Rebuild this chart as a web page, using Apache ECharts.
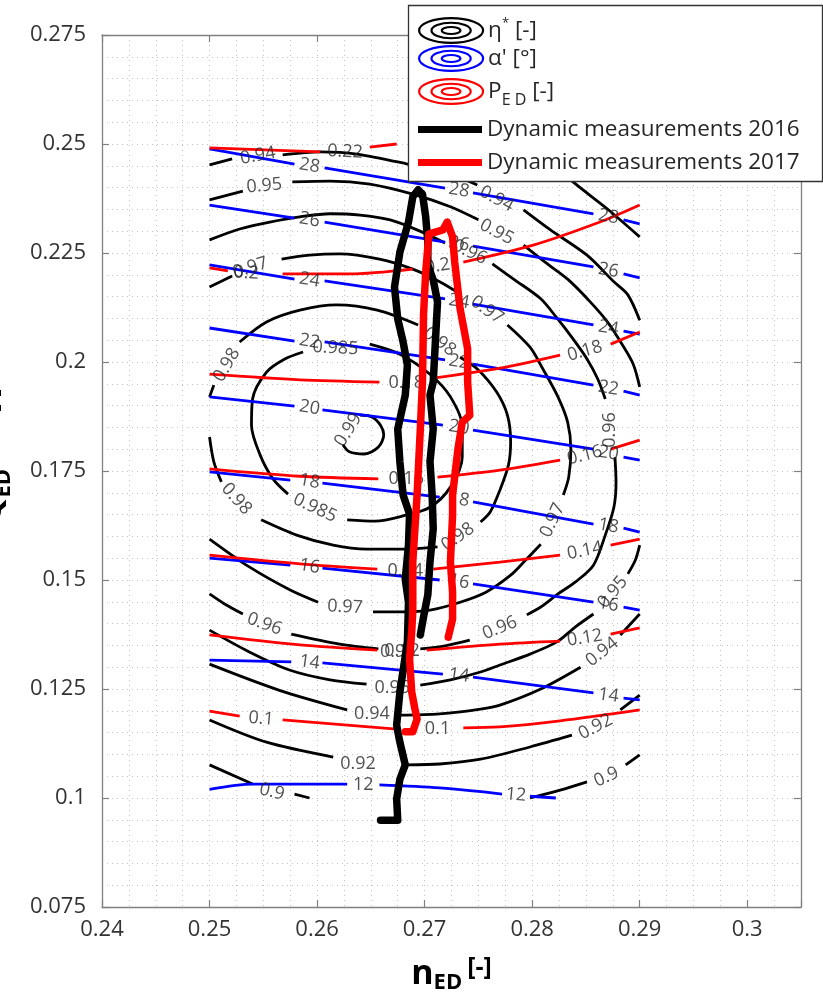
<!DOCTYPE html>
<html><head><meta charset="utf-8">
<script src="https://cdn.jsdelivr.net/npm/echarts@6/dist/echarts.min.js"></script>
<style>html,body{margin:0;padding:0;background:#fff}#c{width:823px;height:1002px}</style>
</head><body><div id="c"></div>
<script>
// ---------- axis ticks ----------
const xTickLabels = ['0.24','0.25','0.26','0.27','0.28','0.29','0.3'];
const yTickLabels = ['0.075','0.1','0.125','0.15','0.175','0.2','0.225','0.25','0.275'];

// ---------- eta* contours (segments between inline labels) ----------
const eta099 = [[[0.2640,0.1878],[0.2651,0.1874],[0.2659,0.1855],[0.2662,0.1833],[0.2657,0.1805],[0.2644,0.1789],[0.2630,0.1794],[0.2624,0.1810]]];
const eta0985 = [
 [[0.2649,0.2041],[0.2677,0.2018],[0.2705,0.1972],[0.2724,0.1920],[0.2735,0.1851],[0.2735,0.1782],[0.2724,0.1713],[0.2705,0.1667],[0.2680,0.1647],[0.2654,0.1635],[0.2628,0.1638]],
 [[0.2573,0.1697],[0.2559,0.1732],[0.2547,0.1787],[0.2539,0.1855],[0.2540,0.1915],[0.2553,0.1977],[0.2570,0.2007],[0.2587,0.2023]]
];
const eta098 = [
 [[0.2528,0.2046],[0.2553,0.2092],[0.2584,0.2119],[0.2618,0.2131],[0.2656,0.2119],[0.2694,0.2085]],
 [[0.2733,0.2011],[0.2749,0.1984],[0.2767,0.1931],[0.2777,0.1878],[0.2780,0.1817],[0.2778,0.1764],[0.2770,0.1706],[0.2761,0.1656],[0.2752,0.1633]],
 [[0.2712,0.1576],[0.2680,0.1571],[0.2646,0.1571],[0.2615,0.1580],[0.2581,0.1603],[0.2548,0.1638]],
 [[0.2511,0.1725],[0.2504,0.1771],[0.2500,0.1828]],
 [[0.2500,0.1920],[0.2504,0.1947]]
];
const eta097 = [
 [[0.2500,0.2172],[0.2521,0.2197]],
 [[0.2567,0.2236],[0.2593,0.2245],[0.2621,0.2248],[0.2658,0.2236],[0.2689,0.2213],[0.2714,0.2184],[0.2733,0.2156]],
 [[0.2777,0.2085],[0.2798,0.2034],[0.2810,0.1984],[0.2824,0.1920],[0.2833,0.1862],[0.2836,0.1800],[0.2834,0.1736],[0.2829,0.1695]],
 [[0.2808,0.1582],[0.2794,0.1546],[0.2780,0.1511],[0.2757,0.1472],[0.2733,0.1449],[0.2705,0.1431],[0.2680,0.1427],[0.2652,0.1427]],
 [[0.2601,0.1449],[0.2575,0.1477],[0.2537,0.1530],[0.2500,0.1594]]
];
const eta096 = [
 [[0.2500,0.2280],[0.2528,0.2305],[0.2556,0.2321],[0.2584,0.2333],[0.2612,0.2340],[0.2640,0.2337],[0.2668,0.2326],[0.2693,0.2303],[0.2719,0.2273]],
 [[0.2763,0.2225],[0.2784,0.2188],[0.2808,0.2145],[0.2823,0.2101],[0.2838,0.2053],[0.2851,0.2007],[0.2861,0.1961],[0.2868,0.1915]],
 [[0.2877,0.1782],[0.2878,0.1725],[0.2876,0.1667],[0.2868,0.1603],[0.2857,0.1534],[0.2840,0.1495],[0.2824,0.1468],[0.2808,0.1438],[0.2795,0.1420]],
 [[0.2742,0.1362],[0.2719,0.1349],[0.2696,0.1342]],
 [[0.2657,0.1342],[0.2621,0.1353],[0.2576,0.1376]],
 [[0.2531,0.1422],[0.2514,0.1445],[0.2500,0.1468]]
];
const eta095 = [
 [[0.2500,0.2372],[0.2531,0.2392]],
 [[0.2577,0.2413],[0.2612,0.2415],[0.2649,0.2408],[0.2689,0.2385],[0.2724,0.2356],[0.2750,0.2326]],
 [[0.2792,0.2268],[0.2812,0.2229],[0.2833,0.2190],[0.2854,0.2138],[0.2870,0.2092],[0.2884,0.2039],[0.2894,0.1995],[0.2900,0.1943]],
 [[0.2900,0.1580],[0.2896,0.1546],[0.2889,0.1514]],
 [[0.2857,0.1422],[0.2840,0.1392],[0.2823,0.1358],[0.2798,0.1330],[0.2770,0.1305],[0.2752,0.1289],[0.2724,0.1271],[0.2696,0.1259]],
 [[0.2646,0.1261],[0.2612,0.1271],[0.2575,0.1293],[0.2537,0.1335],[0.2500,0.1385]]
];
const eta094 = [
 [[0.2500,0.2452],[0.2521,0.2466]],
 [[0.2568,0.2475],[0.2603,0.2482],[0.2637,0.2477],[0.2684,0.2454],[0.2724,0.2431],[0.2749,0.2406]],
 [[0.2792,0.2349],[0.2817,0.2303],[0.2851,0.2245],[0.2876,0.2184],[0.2889,0.2154],[0.2900,0.2096]],
 [[0.2900,0.1422],[0.2882,0.1374]],
 [[0.2845,0.1300],[0.2808,0.1250],[0.2770,0.1213],[0.2752,0.1204],[0.2714,0.1193],[0.2677,0.1190]],
 [[0.2628,0.1202],[0.2565,0.1247],[0.2500,0.1307]]
];
const eta092 = [
 [[0.2798,0.2500],[0.2838,0.2413],[0.2870,0.2351],[0.2900,0.2287]],
 [[0.2900,0.1236],[0.2882,0.1202]],
 [[0.2837,0.1144],[0.2798,0.1117],[0.2752,0.1089],[0.2714,0.1078],[0.2684,0.1076]],
 [[0.2615,0.1094],[0.2553,0.1128],[0.2500,0.1179]]
];
const eta090 = [
 [[0.2500,0.1076],[0.2540,0.1032]],
 [[0.2579,0.1009],[0.2593,0.1000]],
 [[0.2900,0.1099],[0.2887,0.1076]],
 [[0.2851,0.1037],[0.2826,0.1018],[0.2798,0.1000]]
];
const etaLabels = [
 [0.2629,0.1844,'0.99',58],
 [0.2617,0.2032,'0.985',-3],[0.2598,0.1665,'0.985',-25],
 [0.2516,0.1993,'0.98',60],[0.2714,0.2046,'0.98',-37],[0.2731,0.1599,'0.98',35],[0.2525,0.1686,'0.98',-48],
 [0.2538,0.2216,'0.97',18],[0.2758,0.2119,'0.97',-35],[0.2819,0.1637,'0.97',65],[0.2626,0.1438,'0.97',-3],
 [0.2742,0.2252,'0.96',-26],[0.2872,0.1844,'0.96',90],[0.2770,0.1390,'0.96',22],[0.2675,0.1335,'0.96',0],[0.2551,0.1399,'0.96',-20],
 [0.2551,0.2404,'0.95',5],[0.2767,0.2298,'0.95',-28],[0.2875,0.1472,'0.95',50],[0.2670,0.1252,'0.95',0],
 [0.2545,0.2473,'0.94',10],[0.2767,0.2374,'0.94',-28],[0.2865,0.1335,'0.94',38],[0.2651,0.1193,'0.94',0],
 [0.2859,0.1163,'0.92',28],[0.2638,0.1078,'0.92',0],
 [0.2558,0.1014,'0.9',-13],[0.2869,0.1048,'0.9',24]
];

// ---------- alpha' contours ----------
const alpha28 = [[[0.2500,0.2489],[0.2579,0.2454]],[[0.2607,0.2445],[0.2719,0.2399]],[[0.2745,0.2388],[0.2857,0.2340]],[[0.2885,0.2326],[0.2900,0.2317]]];
const alpha26 = [[[0.2500,0.2360],[0.2579,0.2330]],[[0.2607,0.2321],[0.2719,0.2275]],[[0.2745,0.2266],[0.2857,0.2218]],[[0.2885,0.2202],[0.2900,0.2193]]];
const alpha24 = [[[0.2500,0.2223],[0.2579,0.2190]],[[0.2607,0.2186],[0.2719,0.2145]],[[0.2745,0.2133],[0.2857,0.2085]],[[0.2885,0.2071],[0.2900,0.2064]]];
const alpha22 = [[[0.2500,0.2078],[0.2579,0.2048]],[[0.2607,0.2046],[0.2719,0.2005]],[[0.2745,0.1995],[0.2857,0.1947]],[[0.2885,0.1933],[0.2900,0.1924]]];
const alpha20 = [[[0.2500,0.1920],[0.2579,0.1899]],[[0.2605,0.1890],[0.2717,0.1855]],[[0.2745,0.1844],[0.2857,0.1800]],[[0.2885,0.1782],[0.2900,0.1775]]];
const alpha18 = [[[0.2500,0.1748],[0.2575,0.1729]],[[0.2605,0.1722],[0.2714,0.1690]],[[0.2745,0.1679],[0.2857,0.1628]],[[0.2885,0.1619],[0.2900,0.1610]]];
const alpha16 = [[[0.2500,0.1550],[0.2575,0.1534]],[[0.2605,0.1527],[0.2714,0.1500]],[[0.2745,0.1491],[0.2857,0.1449]],[[0.2885,0.1438],[0.2900,0.1431]]];
const alpha14 = [[[0.2500,0.1316],[0.2576,0.1312]],[[0.2605,0.1310],[0.2717,0.1284]],[[0.2745,0.1277],[0.2857,0.1241]],[[0.2885,0.1229],[0.2900,0.1225]]];
const alpha12 = [[[0.2500,0.1020],[0.2540,0.1032],[0.2628,0.1032]],[[0.2658,0.1030],[0.2714,0.1023],[0.2772,0.1009]],[[0.2798,0.1004],[0.2822,0.1000]]];
const alphaLabels = [
 [0.2593,0.2450,'28',-10],[0.2732,0.2394,'28',-10],[0.2871,0.2333,'28',-10],
 [0.2593,0.2326,'26',-10],[0.2732,0.2271,'26',-10],[0.2871,0.2210,'26',-10],
 [0.2593,0.2188,'24',-10],[0.2732,0.2139,'24',-10],[0.2871,0.2078,'24',-10],
 [0.2593,0.2047,'22',-10],[0.2732,0.2000,'22',-10],[0.2871,0.1940,'22',-10],
 [0.2593,0.1895,'20',-10],[0.2732,0.1850,'20',-10],[0.2871,0.1791,'20',-10],
 [0.2593,0.1726,'18',-10],[0.2732,0.1685,'18',-10],[0.2871,0.1624,'18',-10],
 [0.2593,0.1531,'16',-10],[0.2732,0.1496,'16',-10],[0.2871,0.1444,'16',-10],
 [0.2593,0.1311,'14',-8],[0.2732,0.1281,'14',-8],[0.2871,0.1235,'14',-8],
 [0.2643,0.1031,'12',0],[0.2785,0.1007,'12',-5]
];

// ---------- P_ED contours ----------
const ped022 = [[[0.2500,0.2491],[0.2603,0.2482]],[[0.2649,0.2493],[0.2674,0.2500]]];
const ped020 = [[[0.2500,0.2216],[0.2517,0.2209]],[[0.2568,0.2202],[0.2630,0.2202],[0.2689,0.2213]],[[0.2736,0.2229],[0.2801,0.2268],[0.2863,0.2321],[0.2900,0.2360]]];
const ped018 = [[[0.2500,0.1972],[0.2584,0.1959],[0.2658,0.1954]],[[0.2708,0.1963],[0.2770,0.1986],[0.2826,0.2016]],[[0.2873,0.2041],[0.2900,0.2069]]];
const ped016 = [[[0.2500,0.1755],[0.2584,0.1738],[0.2657,0.1732]],[[0.2712,0.1736],[0.2770,0.1752],[0.2826,0.1775]],[[0.2873,0.1800],[0.2900,0.1821]]];
const ped014 = [[[0.2500,0.1557],[0.2584,0.1537],[0.2656,0.1525]],[[0.2708,0.1525],[0.2770,0.1541],[0.2826,0.1557]],[[0.2873,0.1580],[0.2900,0.1594]]];
const ped012 = [[[0.2500,0.1374],[0.2584,0.1351],[0.2656,0.1339]],[[0.2702,0.1339],[0.2770,0.1353],[0.2826,0.1360]],[[0.2873,0.1376],[0.2900,0.1390]]];
const ped010 = [[[0.2500,0.1199],[0.2528,0.1188]],[[0.2568,0.1179],[0.2674,0.1158]],[[0.2736,0.1161],[0.2770,0.1163],[0.2826,0.1177],[0.2900,0.1202]]];
const pedLabels = [
 [0.2626,0.2482,'0.22',-3],
 [0.2534,0.2204,'0.2',-3],[0.2712,0.2220,'0.2',8],
 [0.2683,0.1952,'0.18',0],[0.2849,0.2025,'0.18',16],
 [0.2683,0.1733,'0.16',0],[0.2849,0.1786,'0.16',14],
 [0.2682,0.1522,'0.14',0],[0.2849,0.1567,'0.14',11],
 [0.2679,0.1337,'0.12',0],[0.2849,0.1367,'0.12',9],
 [0.2548,0.1182,'0.1',-5],[0.2712,0.1159,'0.1',0]
];

// ---------- dynamic measurements ----------
const dyn2016 = [[0.2659,0.0949],[0.2675,0.0949],[0.2674,0.0998],[0.2677,0.1043],[0.2682,0.1076],[0.2677,0.1128],[0.2674,0.1167],[0.2677,0.1243],[0.2684,0.1358],[0.2685,0.1449],[0.2682,0.1502],[0.2685,0.1580],[0.2686,0.1651],[0.2680,0.1695],[0.2677,0.1771],[0.2675,0.1846],[0.2682,0.1924],[0.2684,0.1993],[0.2680,0.2046],[0.2675,0.2099],[0.2672,0.2172],[0.2677,0.2252],[0.2685,0.2321],[0.2689,0.2379],[0.2694,0.2395],[0.2698,0.2385],[0.2701,0.2333],[0.2703,0.2275],[0.2703,0.2223],[0.2708,0.2188],[0.2712,0.2138],[0.2710,0.2046],[0.2708,0.1954],[0.2705,0.1924],[0.2708,0.1846],[0.2705,0.1771],[0.2707,0.1695],[0.2708,0.1617],[0.2705,0.1541],[0.2703,0.1466],[0.2699,0.1415],[0.2696,0.1374]];
const dyn2017 = [[0.2722,0.1369],[0.2726,0.1410],[0.2726,0.1472],[0.2724,0.1541],[0.2726,0.1649],[0.2726,0.1695],[0.2731,0.1800],[0.2735,0.1862],[0.2742,0.1878],[0.2740,0.1954],[0.2740,0.2030],[0.2733,0.2122],[0.2728,0.2229],[0.2726,0.2287],[0.2721,0.2321],[0.2717,0.2303],[0.2710,0.2298],[0.2704,0.2294],[0.2703,0.2264],[0.2701,0.2206],[0.2699,0.2108],[0.2698,0.1954],[0.2696,0.1846],[0.2693,0.1695],[0.2689,0.1541],[0.2689,0.1427],[0.2688,0.1381],[0.2686,0.1319],[0.2688,0.1243],[0.2691,0.1204],[0.2693,0.1181],[0.2689,0.1152],[0.2682,0.1152]];

// ---------- legend entries ----------
const legendNames = ['eta', 'alpha', 'ped', 'd2016', 'd2017'];
const legendText = {
  eta: '{t|η}{sup|*}{t| [-]}',
  alpha: "{t|α' [°]}",
  ped: '{t|P}{sub|E D}{t| [-]}',
  d2016: '{t|Dynamic measurements 2016}',
  d2017: '{t|Dynamic measurements 2017}'
};

// ---------- build chart ----------
const F = 'Open Sans';
const TXT = '#262626';
const GRIDC = '#c4c4c4';
const AX = '#808080';

function contourSeries(name, levels, color) {
  const out = [];
  levels.forEach(function (segs) {
    segs.forEach(function (seg) {
      out.push({type: 'line', name: name, data: seg, symbol: 'none', showSymbol: false, smooth: 0.3,
        lineStyle: {color: color, width: 2.8, cap: 'butt'}, itemStyle: {color: color}, silent: true, z: 2});
    });
  });
  return out;
}
function labelSeries(labels) {
  return {type: 'scatter', name: 'labels', silent: true, z: 3, symbolSize: 1,
    itemStyle: {color: 'rgba(0,0,0,0)'},
    data: labels.map(function (l) { return {value: [l[0], l[1]], name: l[2], label: {rotate: l[3]}}; }),
    label: {show: true, position: 'inside', formatter: '{b}', fontSize: 18, fontFamily: F, color: TXT}};
}
function tickFmt(list) {
  return function (v) {
    for (const s of list) { if (Math.abs(parseFloat(s) - v) < 1e-7) return s; }
    return '';
  };
}

const series = []
  .concat(contourSeries('eta', [eta099, eta0985, eta098, eta097, eta096, eta095, eta094, eta092, eta090], '#000000'))
  .concat(contourSeries('alpha', [alpha28, alpha26, alpha24, alpha22, alpha20, alpha18, alpha16, alpha14, alpha12], '#0000ff'))
  .concat(contourSeries('ped', [ped022, ped020, ped018, ped016, ped014, ped012, ped010], '#ff0000'))
  .concat([labelSeries(etaLabels.concat(alphaLabels, pedLabels))])
  .concat([
    {type: 'line', name: 'd2016', data: dyn2016, symbol: 'none', showSymbol: false, silent: true, z: 4,
      lineStyle: {color: '#000000', width: 7.5, join: 'round', cap: 'round'}, itemStyle: {color: '#000000'}},
    {type: 'line', name: 'd2017', data: dyn2017, symbol: 'none', showSymbol: false, silent: true, z: 4,
      lineStyle: {color: '#ff0000', width: 7.5, join: 'round', cap: 'round'}, itemStyle: {color: '#ff0000'}}
  ]);

const ellipsePath = 'path://M1,13a31,12 0 1,0 62,0a31,12 0 1,0 -62,0ZM13,13a19,7.5 0 1,0 38,0a19,7.5 0 1,0 -38,0ZM23,13a9,3.4 0 1,0 18,0a9,3.4 0 1,0 -18,0Z';
const barPath = 'path://M0,0H64V7H0Z';
const legendIcon = {eta: ellipsePath, alpha: ellipsePath, ped: ellipsePath, d2016: barPath, d2017: barPath};
const legendStyle = {
  eta: {color: 'rgba(0,0,0,0)', borderColor: '#000000', borderWidth: 2.2},
  alpha: {color: 'rgba(0,0,0,0)', borderColor: '#0000ff', borderWidth: 2.2},
  ped: {color: 'rgba(0,0,0,0)', borderColor: '#ff0000', borderWidth: 2.2},
  d2016: {color: '#000000', borderWidth: 0},
  d2017: {color: '#ff0000', borderWidth: 0}
};
const legendTop = {eta: 17, alpha: 45, ped: 78, d2016: 118, d2017: 151};
const legendRich = {
  t: {fontSize: 22.5, fontFamily: F, color: TXT},
  sup: {fontSize: 13, fontFamily: F, color: TXT, padding: [0, 0, 14, 0]},
  sub: {fontSize: 16, fontFamily: F, color: TXT, padding: [18, 0, 0, 0]}
};
const legends = legendNames.map(function (n) {
  return {
    show: true, orient: 'vertical', left: 418, top: legendTop[n], padding: 0, z: 6,
    itemWidth: 64, itemHeight: 26, selectedMode: false, symbolKeepAspect: true,
    formatter: function (name) { return legendText[name]; },
    textStyle: {fontFamily: F, fontSize: 22.5, color: TXT, rich: legendRich},
    data: [{name: n, icon: legendIcon[n], itemStyle: legendStyle[n]}]
  };
});

const xNameRich = {
  n: {fontSize: 34, fontWeight: 'bold', fontFamily: F, color: '#000'},
  s: {fontSize: 22, fontWeight: 'bold', fontFamily: F, color: '#000', padding: [16, 0, 0, 0]},
  b: {fontSize: 25, fontWeight: 'bold', fontFamily: F, color: '#000', padding: [0, 0, 14, 0]},
  g: {fontSize: 10, width: 5}
};
const yNameRich = {
  n: {fontSize: 33, fontWeight: 'bold', fontFamily: F, color: '#000'},
  s: {fontSize: 22, fontWeight: 'bold', fontFamily: F, color: '#000', padding: [24, 0, 0, 0]},
  b: {fontSize: 25, fontWeight: 'bold', fontFamily: F, color: '#000', padding: [0, 0, 4, 0]},
  sp: {fontSize: 22, width: 56},
  sp0: {fontSize: 22, width: 30}
};

const option = {
  animation: false,
  backgroundColor: '#ffffff',
  grid: {left: 102, right: 22, top: 35, bottom: 95, containLabel: false, outerBoundsMode: 'none'},
  graphic: [{type: 'rect', z: 5, silent: true, shape: {x: 408.5, y: 5.5, width: 414, height: 176},
    style: {fill: '#ffffff', stroke: '#333333', lineWidth: 1.3}}],
  xAxis: [
    {type: 'value', position: 'bottom', min: 0.24, max: 0.305, interval: 0.01,
      axisLine: {show: true, onZero: false, lineStyle: {color: AX, width: 1.3}},
      axisTick: {show: true, inside: true, length: 7, lineStyle: {color: AX, width: 1.2}},
      splitLine: {show: false},
      axisLabel: {formatter: tickFmt(xTickLabels), margin: 12, fontSize: 22, fontFamily: F, color: '#333'},
      name: '{n|n}{s|ED}{g| }{b|[-]}', nameLocation: 'middle', nameGap: 48,
      nameTextStyle: {rich: xNameRich}},
    {type: 'value', position: 'top', min: 0.24, max: 0.305, interval: 0.01,
      axisLine: {show: true, onZero: false, lineStyle: {color: AX, width: 1.3}},
      axisTick: {show: true, inside: true, length: 7, lineStyle: {color: AX, width: 1.2}},
      axisLabel: {show: false}, splitLine: {show: false}},
    {type: 'value', position: 'top', min: 0.24, max: 0.305, interval: 0.0025,
      axisLine: {show: false}, axisTick: {show: false}, axisLabel: {show: false},
      splitLine: {show: true, lineStyle: {color: GRIDC, type: [1, 4], width: 1}}}
  ],
  yAxis: [
    {type: 'value', position: 'left', min: 0.075, max: 0.275, interval: 0.025,
      axisLine: {show: true, onZero: false, lineStyle: {color: AX, width: 1.3}},
      axisTick: {show: true, inside: true, length: 7, lineStyle: {color: AX, width: 1.2}},
      splitLine: {show: false},
      axisLabel: {formatter: tickFmt(yTickLabels), margin: 16, fontSize: 22, fontFamily: F, color: '#333'},
      name: '{sp0| }{n|Q}{s|ED}{sp| }{b|[-]}', nameLocation: 'middle', nameGap: 87, nameRotate: 90,
      nameTextStyle: {rich: yNameRich}},
    {type: 'value', position: 'right', min: 0.075, max: 0.275, interval: 0.025,
      axisLine: {show: true, onZero: false, lineStyle: {color: AX, width: 1.3}},
      axisTick: {show: true, inside: true, length: 7, lineStyle: {color: AX, width: 1.2}},
      axisLabel: {show: false}, splitLine: {show: false}},
    {type: 'value', position: 'right', min: 0.075, max: 0.275, interval: 0.005,
      axisLine: {show: false}, axisTick: {show: false}, axisLabel: {show: false},
      splitLine: {show: true, lineStyle: {color: GRIDC, type: [1, 4], width: 1}}}
  ],
  legend: legends,
  series: series
};

const chart = echarts.init(document.getElementById('c'), null, {renderer: 'canvas'});
chart.setOption(option);
</script></body></html>
